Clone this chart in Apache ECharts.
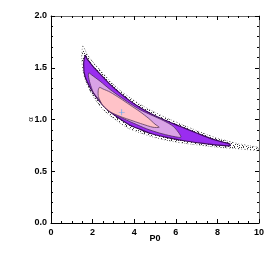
<!DOCTYPE html>
<html><head><meta charset="utf-8">
<script src="https://cdn.jsdelivr.net/npm/echarts@6/dist/echarts.min.js"></script>
<style>html,body{margin:0;padding:0;background:#fff}#c{width:274px;height:257px}</style>
</head><body><div id="c"></div>
<script>
// Tick labels
var xTicks = [0, 2, 4, 6, 8, 10];
var yTicks = [0.0, 0.5, 1.0, 1.5, 2.0];

// Sample-scatter envelope, outer (violet), middle (lavender) and inner (pink) confidence contours
var fringe = [[1.53,1.71],[1.7,1.645],[1.9,1.585],[2.1,1.535],[2.4,1.47],[2.85,1.37],[3.3,1.285],[3.8,1.21],[4.3,1.145],[4.8,1.09],[5.4,1.03],[6.2,0.96],[7.0,0.893],[7.8,0.833],[8.4,0.797],[9.0,0.767],[9.5,0.747],[9.95,0.73],
              [9.95,0.70],[9.4,0.71],[8.8,0.72],[8.1,0.73],[7.3,0.748],[6.4,0.77],[5.6,0.797],[4.8,0.837],[4.2,0.877],[3.7,0.917],[3.1,0.997],[2.6,1.077],[2.2,1.172],[1.9,1.267],[1.67,1.37],[1.54,1.47],[1.48,1.58]];
var outer = [[1.65,1.62],[1.72,1.59],[1.875,1.55],[2.03,1.51],[2.36,1.44],[2.84,1.34],[3.32,1.255],[3.8,1.18],[4.28,1.115],[4.76,1.06],[5.4,1.0],[6.2,0.935],[7.0,0.87],[7.8,0.808],[8.3,0.78],[8.6,0.762],
             [8.6,0.745],[8.0,0.752],[7.2,0.772],[6.4,0.795],[5.6,0.825],[4.8,0.865],[4.28,0.905],[3.8,0.945],[3.16,1.027],[2.68,1.10],[2.2,1.21],[1.875,1.31],[1.63,1.42],[1.57,1.53]];
var middle = [[1.82,1.45],[1.96,1.43],[2.36,1.37],[2.84,1.29],[3.32,1.22],[3.8,1.155],[4.28,1.095],[4.8,1.045],[5.4,0.99],[5.9,0.93],[6.25,0.83],
              [5.8,0.84],[5.2,0.87],[4.6,0.91],[3.96,0.965],[3.32,1.025],[2.84,1.09],[2.36,1.18],[2.03,1.265],[1.875,1.35],[1.8,1.42]];
var inner = [[2.33,1.31],[2.5,1.295],[2.84,1.265],[3.32,1.205],[3.8,1.14],[4.28,1.075],[4.7,1.01],[5.0,0.955],[5.2,0.925],
             [4.9,0.925],[4.4,0.955],[3.96,0.985],[3.32,1.03],[2.84,1.075],[2.48,1.14],[2.28,1.22],[2.27,1.28]];
var bestFit = [[3.4, 1.07]];

function dotPattern(){
  var cv = document.createElement('canvas'); cv.width = 9; cv.height = 7;
  var ctx = cv.getContext('2d');
  ctx.fillStyle = 'rgba(25,25,25,0.85)';
  [[0,0],[4,1],[7,0],[2,2],[6,3],[1,4],[5,5],[8,5],[3,6],[0,6],[7,2],[3,4],[5,0]].forEach(function(p){ctx.fillRect(p[0],p[1],1,1);});
  return cv;
}
var pat = {image: dotPattern(), repeat: 'repeat'};

function polySeries(pts, style, z){
  return {
    type: 'custom', z: z, silent: true, clip: true,
    data: pts,
    encode: {x: 0, y: 1},
    renderItem: function(params, api){
      if (params.dataIndex !== 0) return null;
      var pp = pts.map(function(p){ return api.coord(p); });
      return {type: 'polygon', shape: {points: pp, smooth: 0.25}, style: style};
    }
  };
}

var chart = echarts.init(document.getElementById('c'), null, {renderer: 'canvas'});
var lbl = {fontFamily: 'Liberation Sans, Arial, sans-serif', fontWeight: 'bold', fontSize: 9, color: '#000'};
chart.setOption({
  animation: false,
  backgroundColor: '#fff',
  grid: {left: 51, right: 15, top: 16, bottom: 34},
  xAxis: [{
    type: 'value', min: 0, max: 10, interval: 2,
    name: 'P0', nameLocation: 'middle', nameGap: 11, nameMoveOverlap: false,
    nameTextStyle: {fontFamily: 'Liberation Sans, Arial, sans-serif', fontWeight: 'bold', fontSize: 9, color: '#000', verticalAlign: 'top'},
    axisLine: {onZero: false, lineStyle: {color: '#000', width: 1}},
    axisTick: {inside: true, length: 4, lineStyle: {color: '#000'}},
    minorTick: {show: true, splitNumber: 4, length: 2, lineStyle: {color: '#000'}},
    axisLabel: Object.assign({margin: 5, formatter: function(v){ return xTicks.indexOf(v) >= 0 ? String(v) : ''; }}, lbl),
    splitLine: {show: false}
  },{
    type: 'value', position: 'top', min: 0, max: 10, interval: 2,
    axisLine: {onZero: false, lineStyle: {color: '#666', width: 1}},
    axisTick: {inside: true, length: 4, lineStyle: {color: '#000'}},
    minorTick: {show: true, splitNumber: 4, length: 2, lineStyle: {color: '#000'}},
    axisLabel: {show: false}, splitLine: {show: false}
  }],
  yAxis: [{
    type: 'value', min: 0, max: 2, interval: 0.5,
    name: 'α', nameLocation: 'middle', nameGap: 16, nameRotate: 90, nameMoveOverlap: false,
    nameTextStyle: {fontFamily: 'Liberation Sans, Arial, sans-serif', fontSize: 8, color: '#000'},
    axisLine: {onZero: false, lineStyle: {color: '#000', width: 1}},
    axisTick: {inside: true, length: 4, lineStyle: {color: '#000'}},
    minorTick: {show: true, splitNumber: 5, length: 2, lineStyle: {color: '#000'}},
    axisLabel: Object.assign({margin: 4, formatter: function(v){ var t = v.toFixed(1); return yTicks.map(function(a){return a.toFixed(1);}).indexOf(t) >= 0 ? t : ''; }}, lbl),
    splitLine: {show: false}
  },{
    type: 'value', position: 'right', min: 0, max: 2, interval: 0.5,
    axisLine: {onZero: false, lineStyle: {color: '#666', width: 1}},
    axisTick: {inside: true, length: 4, lineStyle: {color: '#000'}},
    minorTick: {show: true, splitNumber: 5, length: 2, lineStyle: {color: '#000'}},
    axisLabel: {show: false}, splitLine: {show: false}
  }],
  series: [
    polySeries(fringe, {fill: pat, stroke: 'rgba(50,50,50,0.65)', lineWidth: 0.8, lineDash: [1, 2]}, 1),
    polySeries(outer, {fill: '#9a2df0', stroke: '#3a0a5a', lineWidth: 1.2}, 2),
    polySeries(middle, {fill: '#d9a3e6', stroke: '#4a2a5a', lineWidth: 0.8}, 3),
    polySeries(inner, {fill: '#ffc2c8', stroke: '#5a3a5a', lineWidth: 0.8}, 4),
    {type: 'scatter', z: 5, silent: true, data: bestFit, symbol: 'path://M-0.12,-1H0.12V-0.12H1V0.12H0.12V1H-0.12V0.12H-1V-0.12H-0.12Z', symbolSize: 6, itemStyle: {color: '#3aa0ff'}}
  ]
});
</script></body></html>
